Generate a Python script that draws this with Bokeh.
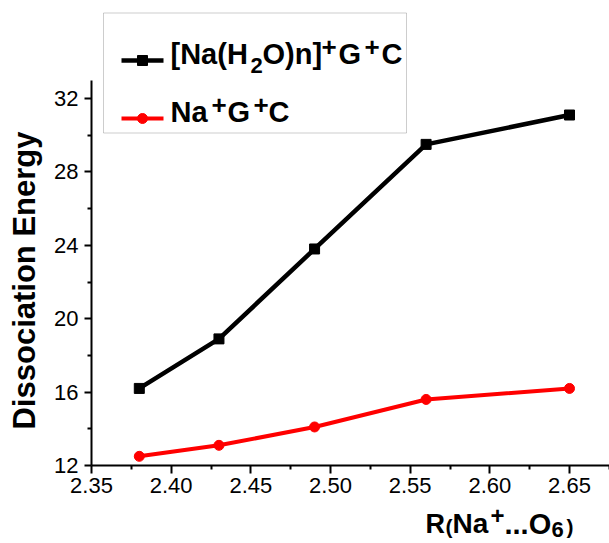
import math
from bokeh.plotting import figure
from bokeh.models import Range1d, Label, BoxAnnotation, FixedTicker
from bokeh.embed import file_html
from bokeh.resources import INLINE

# ---- data ----
r_values = [2.38, 2.43, 2.49, 2.56, 2.65]
e_hydrated = [16.2, 18.9, 23.8, 29.5, 31.1]   # [Na(H2O)n]+G+C
e_bare = [12.5, 13.1, 14.1, 15.6, 16.2]       # Na+G+C
x_ticks = [2.35, 2.40, 2.45, 2.50, 2.55, 2.60, 2.65, 2.70]
y_ticks = [12, 16, 20, 24, 28, 32]
x_tick_labels = ["2.35", "2.40", "2.45", "2.50", "2.55", "2.60", "2.65", "2.70"]
y_tick_labels = ["12", "16", "20", "24", "28", "32"]

# ---- layout: the frame fills the canvas, axes are pinned at fixed data locations ----
W, H = 609, 543
AX_X_PX, AX_Y_PX = 91, 465          # pixel position of x=2.35 and y=12
PX_PER_X = 478 / 0.30
PX_PER_Y = 367 / 20.0
XA, YA = 2.35, 12.0
X0 = XA - AX_X_PX / PX_PER_X
X1 = X0 + W / PX_PER_X
Y0 = YA - (H - AX_Y_PX) / PX_PER_Y
Y1 = YA + AX_Y_PX / PX_PER_Y
BASE_FIX = 12   # label anchor vs. drawn baseline


def dx(px):
    return X0 + px / PX_PER_X


def dy(py):
    return Y0 + (H - py) / PX_PER_Y


FONT = "Liberation Sans"

p = figure(width=W, height=H, x_range=Range1d(X0, X1), y_range=Range1d(Y0, Y1),
           output_backend="svg", toolbar_location=None,
           min_border_left=0, min_border_right=0,
           min_border_top=0, min_border_bottom=0)
p.outline_line_color = None
p.xgrid.visible = False
p.ygrid.visible = False
p.background_fill_color = "white"
p.border_fill_color = "white"

x_minor = [a + (b - a) / 2 for a, b in zip(x_ticks[:-1], x_ticks[1:])]
y_minor = [a + (b - a) / 2 for a, b in zip(y_ticks[:-1], y_ticks[1:])]
p.xaxis.ticker = FixedTicker(ticks=x_ticks, minor_ticks=x_minor)
p.yaxis.ticker = FixedTicker(ticks=y_ticks, minor_ticks=y_minor)
p.xaxis.major_label_overrides = {t: l for t, l in zip(x_ticks, x_tick_labels)}
p.yaxis.major_label_overrides = {t: l for t, l in zip(y_ticks, y_tick_labels)}
p.xaxis.fixed_location = YA
p.yaxis.fixed_location = XA
p.yaxis.bounds = (12, 33)
p.xaxis.bounds = (XA, X1)

for ax in (p.xaxis[0], p.yaxis[0]):
    ax.axis_line_width = 2
    ax.axis_line_color = "black"
    ax.major_tick_line_width = 2
    ax.minor_tick_line_width = 2
    ax.major_tick_line_color = "black"
    ax.minor_tick_line_color = "black"
    ax.major_tick_in = 0
    ax.minor_tick_in = 0
    ax.major_label_text_font = FONT
    ax.major_label_text_font_size = "22px"
    ax.major_label_text_color = "black"
p.xaxis.major_tick_out = 8
p.xaxis.minor_tick_out = 4
p.yaxis.major_tick_out = 7
p.yaxis.minor_tick_out = 4
p.xaxis.major_label_standoff = 4
p.yaxis.major_label_standoff = 6

# ---- series ----
p.line(r_values, e_hydrated, line_color="black", line_width=4.5)
p.scatter(r_values, e_hydrated, marker="square", size=10, color="black")
p.line(r_values, e_bare, line_color="#ff0000", line_width=4)
p.scatter(r_values, e_bare, marker="circle", size=10, color="#ff0000")

# ---- legend box ----
p.add_layout(BoxAnnotation(left=dx(103), right=dx(406), top=dy(12.5), bottom=dy(132.5),
                           fill_color="white", fill_alpha=1.0, level="underlay",
                           line_color="#5a5a5a", line_width=1))
p.line([dx(121), dx(163)], [dy(60), dy(60)], line_color="black", line_width=4.5)
p.scatter([dx(142)], [dy(60)], marker="square", size=10, color="black")
p.line([dx(121), dx(163)], [dy(118), dy(118)], line_color="#ff0000", line_width=4)
p.scatter([dx(142)], [dy(118)], marker="circle", size=10, color="#ff0000")


def piece(text, px, base, size, bold=True):
    p.add_layout(Label(x=dx(px), y=dy(base - BASE_FIX), text=text, text_font=FONT,
                       text_font_size=f"{size}px",
                       text_font_style="bold" if bold else "normal",
                       text_color="black", text_align="left",
                       text_baseline="alphabetic"))


# row 1: [Na(H2O)n]+G+C
piece("[Na(H", 170, 65, 29)
piece("2", 250, 77, 22)
piece("O)n]", 262, 65, 29)
piece("+", 321, 58, 26)
piece("G", 338, 65, 29)
piece("+", 364, 58, 26)
piece("C", 381, 65, 29)
# row 2: Na+G+C
piece("Na", 170, 123, 29)
piece("+", 211, 116, 26)
piece("G", 227, 123, 29)
piece("+", 253, 116, 26)
piece("C", 268, 123, 29)

# ---- x title: R(Na+...O6) ----
XB = 535
piece("R", 425, XB, 27)
piece("(", 445, XB + 3, 21)
piece("Na", 452, XB, 28)
piece("+", 490, XB - 8, 24)
piece("...O", 504, XB, 29)
piece("6", 551, XB + 6, 22)
piece(")", 566, XB + 3, 21)

# ---- y title ----
p.add_layout(Label(x=dx(35 - BASE_FIX + 1), y=dy(280), text="Dissociation Energy", angle=math.pi / 2,
                   text_font=FONT, text_font_size="31px", text_font_style="bold",
                   text_color="black", text_align="center", text_baseline="alphabetic"))

open("out.html", "w").write(file_html(p, INLINE))
